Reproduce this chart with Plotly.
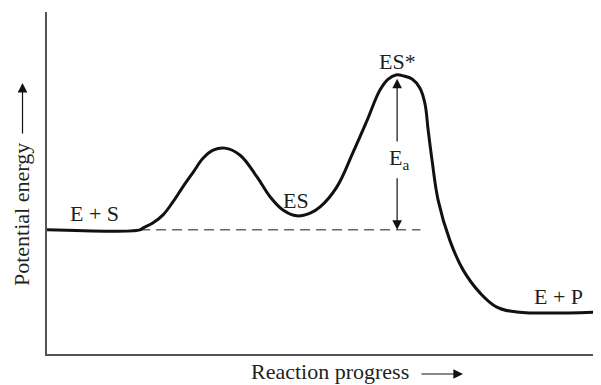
import plotly.graph_objects as go

# Energy profile (reaction progress 0-100, energy 0-100)
progress = [0, 16.8, 17.3, 19.1, 20.9, 22.7, 24.5, 26.4, 28.2, 30.0, 32.1, 34.8, 37.9,
            40.3, 42.6, 45.1, 47.5, 49.3, 52.3, 55.2, 57.8, 60.1, 61.6, 63.0, 64.4,
            65.9, 67.3, 68.2, 68.8, 69.5, 70.6, 72.7, 75.1, 78.2, 81.2, 84.8, 100]
energy = [36.3, 36.3, 36.8, 38.3, 40.6, 44.4, 48.8, 53.2, 57.3, 59.6, 60.2, 58.2, 51.8,
          45.9, 42.1, 40.4, 41.2, 43.0, 48.8, 58.8, 68.4, 77.2, 80.4, 81.6, 81.3,
          80.4, 77.8, 73.4, 65.5, 56.7, 45.0, 33.3, 24.6, 17.8, 13.7, 12.3, 12.3]

# Reference (substrate) level and dashed line extent
base_level = 36.3
dash_x = [16.8, 67.4]

# Activation energy arrow
ea_x = 63.2
ea_top = 80.5
ea_gap = [51.8, 61.7]

# State labels
label_text = ["E + S", "ES", "ES*", "E<sub>a</sub>", "E + P"]
label_x = [8.5, 44.9, 63.2, 63.6, 92.4]
label_y = [41.0, 45.0, 85.4, 56.9, 16.7]

FONT = "Liberation Serif"
FS = 22
TXT = "#231f20"

fig = go.Figure()

fig.add_trace(go.Scatter(
    x=dash_x, y=[base_level, base_level], mode="lines",
    line=dict(color="#666666", width=1.5, dash="10px,6px"),
    hoverinfo="skip", showlegend=False))

fig.add_trace(go.Scatter(
    x=progress, y=energy, mode="lines",
    line=dict(color="#111111", width=3, shape="spline", smoothing=1.1),
    hoverinfo="skip", showlegend=False))

annotations = []
for t, x, y in zip(label_text, label_x, label_y):
    annotations.append(dict(x=x, y=y, xref="x", yref="y", text=t, showarrow=False,
                            xanchor="center", yanchor="middle",
                            font=dict(family=FONT, size=FS, color=TXT)))

# Ea double arrow (two halves around the label)
annotations.append(dict(x=ea_x, y=ea_top, ax=ea_x, ay=ea_gap[1], xref="x", yref="y",
                        axref="x", ayref="y", text="", showarrow=True, arrowhead=2,
                        arrowsize=1.6, arrowwidth=1.2, arrowcolor="#111111"))
annotations.append(dict(x=ea_x, y=base_level, ax=ea_x, ay=ea_gap[0], xref="x", yref="y",
                        axref="x", ayref="y", text="", showarrow=True, arrowhead=2,
                        arrowsize=1.6, arrowwidth=1.2, arrowcolor="#111111"))

# Axis titles (text + arrow)
annotations.append(dict(x=-0.0469, y=0.4064, xref="paper", yref="paper",
                        xanchor="center", yanchor="middle",
                        text="Potential energy", textangle=-90, showarrow=False,
                        font=dict(family=FONT, size=FS, color=TXT)))
annotations.append(dict(x=-0.0442, y=0.7924, xref="paper", yref="paper",
                        ax=0, ay=52, axref="pixel", ayref="pixel",
                        text="", showarrow=True, arrowhead=2, arrowsize=1.6,
                        arrowwidth=1.2, arrowcolor="#111111"))
annotations.append(dict(x=0.5108, y=-0.0526, xref="paper", yref="paper",
                        xanchor="center", yanchor="middle",
                        text="Reaction progress", showarrow=False,
                        font=dict(family=FONT, size=FS, color=TXT)))
annotations.append(dict(x=0.7509, y=-0.0585, xref="paper", yref="paper",
                        ax=-43, ay=0, axref="pixel", ayref="pixel",
                        text="", showarrow=True, arrowhead=2, arrowsize=1.6,
                        arrowwidth=1.2, arrowcolor="#111111"))

# The page body has an 8px default margin, so the figure is sized to fit the window
fig.update_layout(
    width=593, height=377,
    margin=dict(l=39, r=0, t=4, b=31),
    paper_bgcolor="white", plot_bgcolor="white",
    annotations=annotations,
    xaxis=dict(range=[0, 100], showline=True, linecolor="#555555", linewidth=1.5,
               showgrid=False, zeroline=False, showticklabels=False, ticks=""),
    yaxis=dict(range=[0, 100], showline=True, linecolor="#555555", linewidth=1.5,
               showgrid=False, zeroline=False, showticklabels=False, ticks=""),
)

fig.write_html("out.html")
